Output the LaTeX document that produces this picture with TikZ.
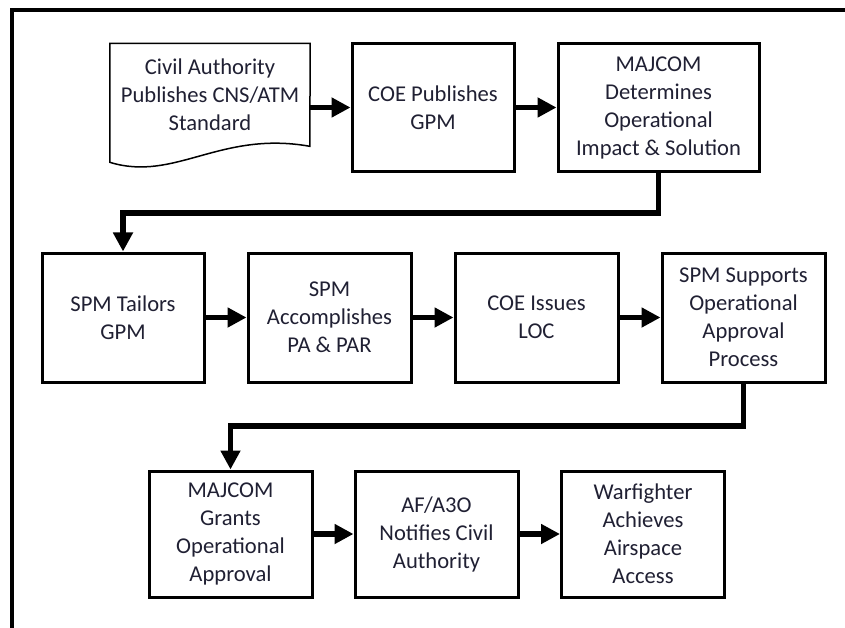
\documentclass[tikz,border=0pt]{standalone}
\usepackage{fontspec}
\setmainfont{Carlito}
\usetikzlibrary{arrows.meta,calc}
\definecolor{txt}{HTML}{202033}
\begin{document}
\begin{tikzpicture}[x=1pt,y=-1pt,
  txtfont/.style={text=txt,font=\fontsize{22.6}{28}\selectfont,align=center},
  box/.style={draw,line width=3pt,fill=white,minimum width=163pt,minimum height=128pt,inner sep=0pt,txtfont},
  wide/.style={box,minimum width=201pt},
  arr/.style={line width=5.5pt,line join=miter,-{Triangle[length=19pt,width=19pt]}},
  frame/.style={line width=4.6pt,line join=miter}]
\useasboundingbox (0,0) rectangle (845,628);
\clip (0,0) rectangle (845,628);
\fill[white] (0,0) rectangle (845,628);
% outer frame
\draw[frame] (12,660) -- (12,10) -- (880,10);
% row 1
\node[minimum width=200pt,minimum height=128pt,inner sep=0pt] (b1) at (210,107.5) {};
\draw[line width=1.5pt,fill=white,line join=miter] (b1.north west) -- (b1.north east)
  -- ($(b1.north west)+(200,103)$)
  .. controls ($(b1.north west)+(110,87)$) and ($(b1.north west)+(65,139)$) .. ($(b1.north west)+(0,119)$)
  -- cycle;
\node[txtfont] (t1) at (210,95) {Civil Authority\\Publishes CNS/ATM\\Standard};
\node[box,minimum width=162pt] (b2) at (433,107.5) {COE Publishes\\GPM};
\node[wide] (b3) at (658.5,107.5) {MAJCOM\\Determines\\Operational\\Impact \& Solution};
% row 2
\node[box,minimum width=162pt,minimum height=129pt] (b4) at (123,317.5) {SPM Tailors\\GPM};
\node[box,minimum width=163pt,minimum height=129pt] (b5) at (329.5,317.5) {SPM\\Accomplishes\\PA \& PAR};
\node[box,minimum width=163pt,minimum height=129pt] (b6) at (536.5,317.5) {COE Issues\\LOC};
\node[box,minimum width=163pt,minimum height=129pt] (b7) at (743.5,317.5) {SPM Supports\\Operational\\Approval\\Process};
% row 3
\node[box,minimum height=126pt] (b8) at (230.5,534) {MAJCOM\\Grants\\Operational\\Approval};
\node[box,minimum height=126pt] (b9) at (436.5,534) {AF/A3O\\Notifies Civil\\Authority};
\node[box,minimum height=126pt] (b10) at (643,534) {Warfighter\\Achieves\\Airspace\\Access};
% connectors
\coordinate (k1) at (0,213);
\coordinate (k2) at (0,426);
\draw[arr] (b1.east) -- (b2.west);
\draw[arr] (b2.east) -- (b3.west);
\draw[arr] (b3.south) -- (b3.south |- k1) -| (b4.north);
\draw[arr] (b4.east) -- (b5.west);
\draw[arr] (b5.east) -- (b6.west);
\draw[arr] (b6.east) -- (b7.west);
\draw[arr] (b7.south) -- (b7.south |- k2) -| (b8.north);
\draw[arr] (b8.east) -- (b9.west);
\draw[arr] (b9.east) -- (b10.west);
\end{tikzpicture}
\end{document}
